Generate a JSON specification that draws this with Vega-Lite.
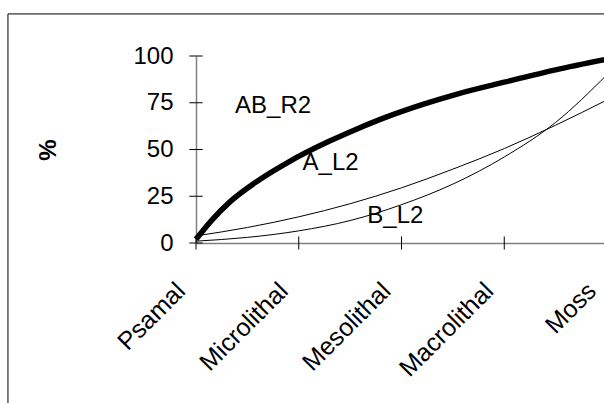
{
  "$schema": "https://vega.github.io/schema/vega-lite/v6.json",
  "width": 411,
  "height": 187,
  "autosize": {"type": "none"},
  "padding": {"left": 196, "top": 56, "right": 0, "bottom": 160},
  "background": "white",
  "config": {"view": {"stroke": null}, "font": "Liberation Sans"},
  "datasets": {
    "curves": [
      {"t": 0, "v": 2, "s": "AB_R2"},
      {"t": 0.15, "v": 12, "s": "AB_R2"},
      {"t": 0.33, "v": 22, "s": "AB_R2"},
      {"t": 0.6, "v": 33.2, "s": "AB_R2"},
      {"t": 0.9, "v": 43.3, "s": "AB_R2"},
      {"t": 1.3, "v": 54.5, "s": "AB_R2"},
      {"t": 1.55, "v": 60.6, "s": "AB_R2"},
      {"t": 1.85, "v": 67.3, "s": "AB_R2"},
      {"t": 2.2, "v": 74, "s": "AB_R2"},
      {"t": 2.55, "v": 79.8, "s": "AB_R2"},
      {"t": 3, "v": 86, "s": "AB_R2"},
      {"t": 3.5, "v": 92.6, "s": "AB_R2"},
      {"t": 4, "v": 98.3, "s": "AB_R2"},
      {"t": 0, "v": 3.8, "s": "A_L2"},
      {"t": 0.5, "v": 8.3, "s": "A_L2"},
      {"t": 1, "v": 14, "s": "A_L2"},
      {"t": 1.5, "v": 21, "s": "A_L2"},
      {"t": 2, "v": 29.5, "s": "A_L2"},
      {"t": 2.5, "v": 39.5, "s": "A_L2"},
      {"t": 3, "v": 50.5, "s": "A_L2"},
      {"t": 3.5, "v": 63, "s": "A_L2"},
      {"t": 4, "v": 76.5, "s": "A_L2"},
      {"t": 0, "v": 1, "s": "B_L2"},
      {"t": 0.5, "v": 3, "s": "B_L2"},
      {"t": 1, "v": 6.5, "s": "B_L2"},
      {"t": 1.5, "v": 12, "s": "B_L2"},
      {"t": 2, "v": 20.5, "s": "B_L2"},
      {"t": 2.5, "v": 31.5, "s": "B_L2"},
      {"t": 3, "v": 46, "s": "B_L2"},
      {"t": 3.5, "v": 64.5, "s": "B_L2"},
      {"t": 4, "v": 90, "s": "B_L2"}
    ],
    "labels": [
      {"t": 0.75, "v": 73.4, "label": "AB_R2"},
      {"t": 1.31, "v": 42.8, "label": "A_L2"},
      {"t": 1.94, "v": 14.6, "label": "B_L2"}
    ],
    "xticks": [{"t": 0}, {"t": 1}, {"t": 2}, {"t": 3}, {"t": 4}],
    "yticks": [{"v": 0}, {"v": 25}, {"v": 50}, {"v": 75}, {"v": 100}]
  },
  "layer": [
    {
      "data": {"name": "curves"},
      "transform": [{"filter": "datum.s != 'AB_R2'"}],
      "mark": {"type": "line", "interpolate": "monotone", "color": "#000000", "strokeWidth": 1, "clip": false},
      "encoding": {
        "x": {
          "field": "t", "type": "quantitative",
          "scale": {"domain": [0, 4], "nice": false, "zero": false},
          "axis": {
            "values": [0, 1, 2, 3, 4],
            "labelExpr": "['Psamal','Microlithal','Mesolithal','Macrolithal','Moss'][datum.value]",
            "labelAngle": -45,
            "labelFontSize": 25,
            "labelColor": "#000000",
            "labelPadding": 35,
            "labelOffset": -24,
            "labelBound": false,
            "labelFlush": false,
            "labelOverlap": false,
            "ticks": false,
            "grid": false,
            "domainColor": "#808080",
            "domainWidth": 1.5,
            "title": null
          }
        },
        "y": {
          "field": "v", "type": "quantitative",
          "scale": {"domain": [0, 100], "nice": false},
          "axis": {
            "values": [0, 25, 50, 75, 100],
            "labelFontSize": 24,
            "labelColor": "#000000",
            "labelPadding": 23,
            "ticks": false,
            "grid": false,
            "domainColor": "#808080",
            "domainWidth": 1.5,
            "title": "%",
            "titleFontSize": 24,
            "titleFontWeight": "bold",
            "titleColor": "#000000",
            "titlePadding": 72
          }
        },
        "detail": {"field": "s", "type": "nominal"}
      }
    },
    {
      "data": {"name": "curves"},
      "transform": [{"filter": "datum.s == 'AB_R2'"}],
      "mark": {"type": "line", "interpolate": "monotone", "color": "#000000", "strokeWidth": 5.5, "clip": false},
      "encoding": {
        "x": {"field": "t", "type": "quantitative"},
        "y": {"field": "v", "type": "quantitative"}
      }
    },
    {
      "data": {"values": [{"frame": 1}]},
      "mark": {"type": "rect", "filled": false, "stroke": "#000000", "strokeWidth": 1, "clip": false},
      "encoding": {
        "x": {"datum": -1.83, "type": "quantitative"},
        "x2": {"datum": 6},
        "y": {"datum": 122.5, "type": "quantitative"},
        "y2": {"datum": -120}
      }
    },
    {
      "data": {"name": "xticks"},
      "mark": {"type": "rule", "color": "#000000", "strokeWidth": 1, "clip": false},
      "encoding": {
        "x": {"field": "t", "type": "quantitative"},
        "y": {"datum": -3.5, "type": "quantitative"},
        "y2": {"datum": 3.5}
      }
    },
    {
      "data": {"name": "yticks"},
      "mark": {"type": "rule", "color": "#000000", "strokeWidth": 1, "clip": false},
      "encoding": {
        "y": {"field": "v", "type": "quantitative"},
        "x": {"datum": -0.065, "type": "quantitative"},
        "x2": {"datum": 0.065}
      }
    },
    {
      "data": {"name": "labels"},
      "mark": {"type": "text", "fontSize": 24, "color": "#000000", "align": "center", "baseline": "middle"},
      "encoding": {
        "x": {"field": "t", "type": "quantitative"},
        "y": {"field": "v", "type": "quantitative"},
        "text": {"field": "label"}
      }
    }
  ]
}
